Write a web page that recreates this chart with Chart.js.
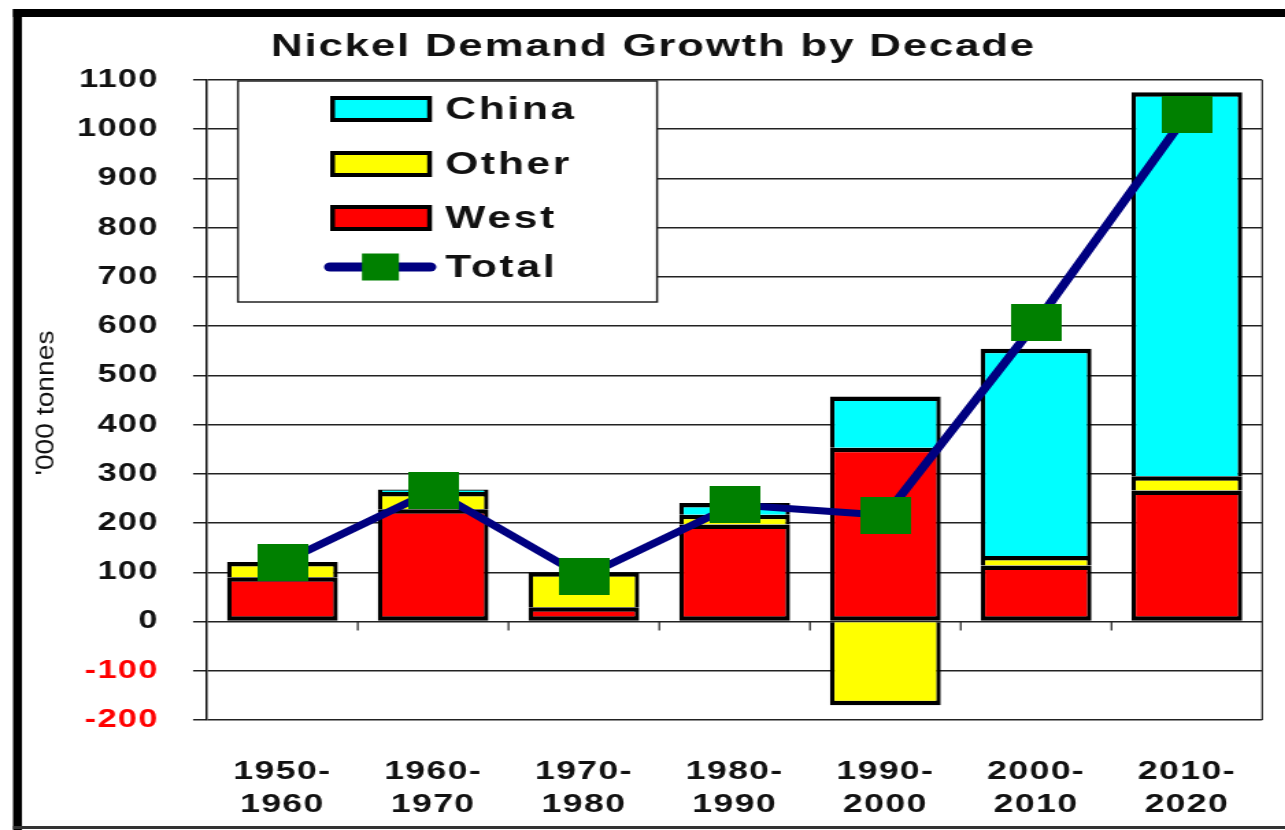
<!DOCTYPE html>
<html lang="en">
<head>
<meta charset="UTF-8">
<title>Nickel Demand Growth by Decade</title>
<script src="https://cdn.jsdelivr.net/npm/chart.js"></script>
<style>
  html, body { margin: 0; padding: 0; background: #fff; overflow: hidden; }
  #wrap { width: 1285px; height: 830px; position: relative; }
  /* the source picture is stretched sideways, so the canvas is too */
  #nickel { position: absolute; left: 0; top: 0; transform: scaleX(1.37); transform-origin: 0 0; }
</style>
</head>
<body>
<div id="wrap"><canvas id="nickel" width="938" height="830"></canvas></div>
<script>
// data ('000 tonnes)
const decades = [['1950-', '1960'], ['1960-', '1970'], ['1970-', '1980'], ['1980-', '1990'],
                 ['1990-', '2000'], ['2000-', '2010'], ['2010-', '2020']];
const west  = [90, 228, 29, 197, 353, 114, 266];
const other = [31, 35, 71, 20, -170, 19, 29];
const china = [0, 5, 0, 24, 104, 421, 780];
const total = [120, 266, 91, 237, 216, 607, 1030];
const yMin = -200, yMax = 1100, yStep = 100;

const FONT = '"Liberation Sans", Arial, sans-serif';

// green square marker for the Total line
function makeMarker(s) {
    let c = document.createElement('canvas');
    c.width = s; c.height = s;
    let g = c.getContext('2d');
    g.fillStyle = '#008000';
    g.fillRect(0, 0, s, s);
    return c;
}
let bigMarker = makeMarker(37);

// frame, title, legend and the bits Chart.js doesn't do
const decor = {
    id: 'decor',
    beforeLayout(chart) { chart.ctx.letterSpacing = '1px'; },
    beforeDraw(chart) {
        let ctx = chart.ctx;
        ctx.save();
        ctx.fillStyle = '#fff';
        ctx.fillRect(0, 0, chart.width, chart.height);
        ctx.fillStyle = '#000';
        ctx.fillRect(9.5, 9, chart.width, 8);
        ctx.fillRect(9.5, 9, 6.5, chart.height);
        ctx.fillStyle = '#333';
        ctx.fillRect(9.5, 826, chart.width, 3);
        ctx.restore();
        ctx.letterSpacing = '1px';
    },
    beforeDatasetsDraw(chart) {
        // small ticks below the zero line between categories, right border
        let ctx = chart.ctx, x = chart.scales.x, y = chart.scales.y;
        let y0 = y.getPixelForValue(0);
        let a = chart.chartArea;
        ctx.save();
        ctx.strokeStyle = '#222';
        ctx.lineWidth = 1.2;
        ctx.beginPath();
        for (let i = 1; i < decades.length; i++) {
            let bx = (x.getPixelForValue(i - 1) + x.getPixelForValue(i)) / 2;
            ctx.moveTo(bx, y0);
            ctx.lineTo(bx, y0 + 9);
        }
        ctx.moveTo(a.right, a.top);
        ctx.lineTo(a.right, a.bottom);
        ctx.stroke();
        ctx.restore();
    },
    afterDraw(chart) {
        let ctx = chart.ctx;
        ctx.save();
        // title
        ctx.letterSpacing = '1.3px';
        ctx.fillStyle = '#111';
        ctx.font = 'bold 32px ' + FONT;
        ctx.textAlign = 'center';
        ctx.textBaseline = 'middle';
        ctx.fillText('Nickel Demand Growth by Decade', 477, 47);

        // y axis title, condensed
        ctx.letterSpacing = '0px';
        ctx.save();
        ctx.translate(34, 403);
        ctx.rotate(-Math.PI / 2);
        ctx.font = '18px "Liberation Sans Narrow", ' + FONT;
        let w = ctx.measureText("'000 tonnes").width;
        ctx.scale(145 / w, 1);
        ctx.fillText("'000 tonnes", 0, 0);
        ctx.restore();

        // legend box
        ctx.fillStyle = '#fff';
        ctx.fillRect(173.7, 81, 305.9, 221);
        ctx.strokeStyle = '#222';
        ctx.lineWidth = 1.5;
        ctx.strokeRect(173.7, 81, 305.9, 221);

        let items = [
            { label: 'China', color: '#00ffff', y: 109 },
            { label: 'Other', color: '#ffff00', y: 164 },
            { label: 'West',  color: '#ff0000', y: 218 }
        ];
        for (let it of items) {
            ctx.fillStyle = '#000';
            ctx.fillRect(241, it.y - 13, 74.3, 26);
            ctx.fillStyle = it.color;
            ctx.fillRect(244.5, it.y - 9, 67.3, 18);
        }
        ctx.strokeStyle = '#000080';
        ctx.lineWidth = 9;
        ctx.lineCap = 'round';
        ctx.beginPath();
        ctx.moveTo(241, 267);
        ctx.lineTo(314, 267);
        ctx.stroke();
        ctx.fillStyle = '#008000';
        ctx.fillRect(264.2, 253.5, 27, 27);

        ctx.letterSpacing = '2px';
        ctx.fillStyle = '#111';
        ctx.font = 'bold 31px ' + FONT;
        ctx.textAlign = 'left';
        for (let it of items) ctx.fillText(it.label, 325, it.y + 1);
        ctx.fillText('Total', 325, 268);
        ctx.restore();
    }
};

let barBase = {
    type: 'bar',
    borderColor: '#000',
    borderWidth: { top: 4.5, bottom: 4.5, left: 3.3, right: 3.3 },
    barPercentage: 0.735,
    categoryPercentage: 1,
    stack: 'demand',
    order: 1
};

new Chart(document.getElementById('nickel'), {
    data: {
        labels: decades,
        datasets: [
            Object.assign({}, barBase, { label: 'West', data: west, backgroundColor: '#ff0000', borderSkipped: false }),
            Object.assign({}, barBase, { label: 'Other', data: other, backgroundColor: '#ffff00', borderSkipped: 'start' }),
            Object.assign({}, barBase, { label: 'China', data: china, backgroundColor: '#00ffff', borderSkipped: 'start' }),
            {
                type: 'line',
                label: 'Total',
                data: total,
                borderColor: '#000080',
                borderWidth: 7,
                tension: 0,
                pointStyle: bigMarker,
                order: 0
            }
        ]
    },
    options: {
        responsive: false,
        animation: false,
        devicePixelRatio: 1,
        layout: { padding: { left: 16, top: 80, right: 13.2, bottom: 5 } },
        plugins: {
            legend: { display: false },
            title: { display: false },
            tooltip: { enabled: false }
        },
        scales: {
            x: {
                stacked: true,
                grid: { display: false, drawTicks: false },
                border: { display: false },
                ticks: {
                    color: '#111',
                    font: { family: FONT, size: 26, weight: 'bold', lineHeight: 1.27 },
                    padding: 35,
                    maxRotation: 0,
                    autoSkip: false
                },
                afterFit(scale) { scale.height = 105; }
            },
            y: {
                stacked: true,
                min: yMin,
                max: yMax,
                grid: { color: '#222', lineWidth: 1.5, tickLength: 10.2, tickColor: '#222' },
                border: { color: '#111', width: 1.5 },
                ticks: {
                    stepSize: yStep,
                    padding: 25,
                    color: (c) => c.tick.value < 0 ? '#ff0000' : '#111',
                    font: { family: FONT, size: 25, weight: 'bold' },
                    callback: (v) => String(v)
                },
                afterFit(scale) { scale.width = 135.1; }
            }
        }
    },
    plugins: [decor]
});
</script>
</body>
</html>
